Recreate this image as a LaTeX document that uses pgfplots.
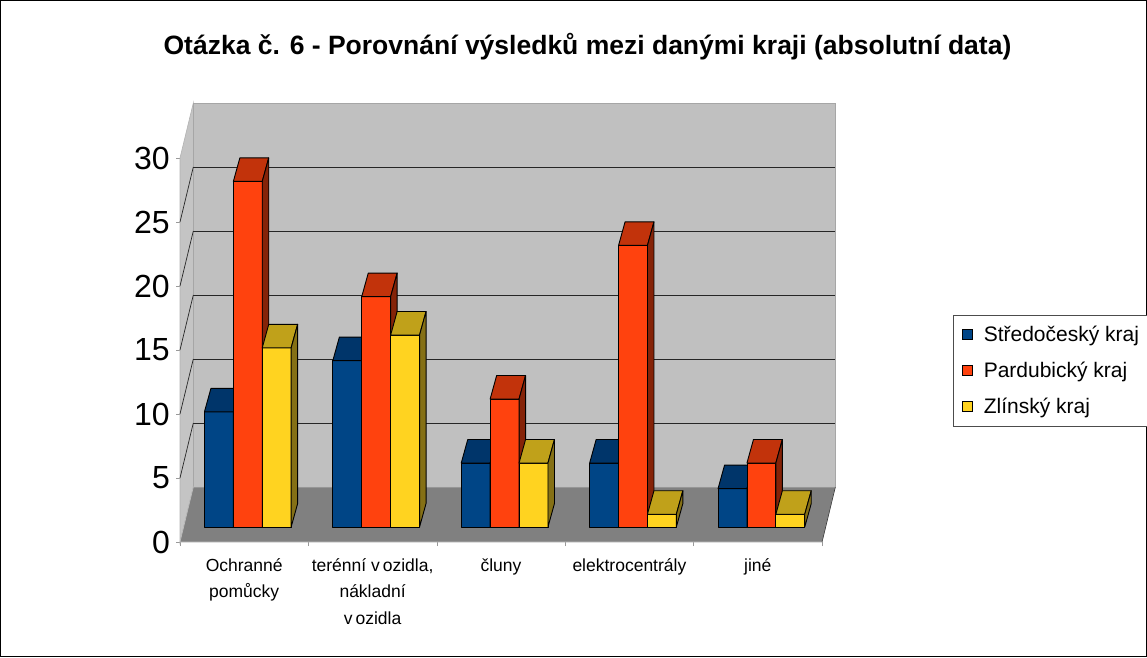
\documentclass[border=0pt]{standalone}
\usepackage{pgfplots}
\pgfplotsset{compat=1.18}
\usepackage{fontspec}
\setmainfont{Liberation Sans}

\definecolor{stF}{HTML}{004586}
\definecolor{stT}{HTML}{00356A}
\definecolor{stS}{HTML}{002A55}
\definecolor{paF}{HTML}{FF420E}
\definecolor{paT}{HTML}{C2330B}
\definecolor{paS}{HTML}{852308}
\definecolor{zlF}{HTML}{FFD320}
\definecolor{zlT}{HTML}{C0A11A}
\definecolor{zlS}{HTML}{857015}
\definecolor{wallB}{HTML}{C0C0C0}
\definecolor{wallL}{HTML}{C4C4C4}
\definecolor{floorc}{HTML}{808080}

% 3D bar drawn at a data point (x, value); \rawv = value
\newcommand\drawbar[4]{%
  \pgfmathsetmacro\hh{\rawv*12.8}%
  \pgfmathsetmacro\xa{#1}%
  \pgfmathsetmacro\xb{\xa+28.9}%
  \pgfmathsetmacro\xc{\xb+6.5}%
  \pgfmathsetmacro\xd{\xa+6.5}%
  \pgfmathsetmacro\yb{15-\hh}%
  \pgfmathsetmacro\yc{38.5-\hh}%
  \pgfsetlinewidth{0.9pt}\pgfsetstrokecolor{black}\pgfsetroundjoin
  \pgfsetfillcolor{#2}%
  \pgfpathrectangle{\pgfpoint{\xa pt}{\yb pt}}{\pgfpoint{28.9pt}{\hh pt}}%
  \pgfusepath{fill,stroke}%
  \pgfsetfillcolor{#3}%
  \pgfpathmoveto{\pgfpoint{\xa pt}{15pt}}%
  \pgfpathlineto{\pgfpoint{\xb pt}{15pt}}%
  \pgfpathlineto{\pgfpoint{\xc pt}{38.5pt}}%
  \pgfpathlineto{\pgfpoint{\xd pt}{38.5pt}}%
  \pgfpathclose
  \pgfusepath{fill,stroke}%
  \pgfsetfillcolor{#4}%
  \pgfpathmoveto{\pgfpoint{\xb pt}{15pt}}%
  \pgfpathlineto{\pgfpoint{\xc pt}{38.5pt}}%
  \pgfpathlineto{\pgfpoint{\xc pt}{\yc pt}}%
  \pgfpathlineto{\pgfpoint{\xb pt}{\yb pt}}%
  \pgfpathclose
  \pgfusepath{fill,stroke}%
}
\pgfdeclareplotmark{barSt}{\drawbar{-39.75}{stF}{stT}{stS}}
\pgfdeclareplotmark{barPa}{\drawbar{-10.85}{paF}{paT}{paS}}
\pgfdeclareplotmark{barZl}{\drawbar{18.05}{zlF}{zlT}{zlS}}

\begin{document}
\begin{tikzpicture}
\useasboundingbox (0,0) rectangle (1147pt,657pt);
\draw[black, line width=0.8pt] (0.4pt,0.4pt) rectangle (1146.6pt,656.6pt);
\node[font=\fontsize{26.5}{30}\selectfont\bfseries, anchor=base, inner sep=0pt] at (587.5pt,602pt)
  {Otázka č. 6 - Porovnání výsledků mezi danými kraji (absolutní data)};
\begin{axis}[
  scale only axis, x=128.4pt, y=12.8pt,
  xmin=-0.5, xmax=4.5, ymin=0, ymax=30,
  at={(180pt,115pt)}, anchor=south west,
  clip=false,
  axis line style={draw=none},
  tick align=outside,
  ytick={0,5,...,30},
  ytick pos=left,
  ytick style={draw=gray!80, line width=0.6pt},
  major tick length=4pt,
  yticklabel style={font=\fontsize{32}{34}\selectfont, inner sep=0pt, xshift=-6pt},
  /pgf/number format/assume math mode=true,
  xtick={-0.5,0.5,...,4.5},
  xticklabels={},
  xtick pos=bottom,
  xtick style={draw=gray!80, line width=0.6pt},
  extra x ticks={0,1,2,3,4},
  extra x tick labels={Ochranné\\pomůcky, {terénní v\,ozidla,\\nákladní\\v\,ozidla}, čluny, elektrocentrály, jiné},
  extra x tick style={major tick length=0pt, xtick style={draw=none}},
  xticklabel style={font=\fontsize{17.5}{26.5}\selectfont, align=center, yshift=-13pt},
  legend image code/.code={\draw[#1, line width=0.6pt] (0pt,-5pt) rectangle (10pt,5pt);},
  legend style={at={(1.2040,0.5911)}, anchor=north west, draw=black!70, fill=white,
    font=\fontsize{21}{25}\selectfont, row sep=15pt, inner ysep=9pt, inner xsep=9pt,
    /tikz/every odd column/.append style={column sep=9pt}},
  legend cell align=left,
]
% left wall
\addplot[forget plot, fill=wallL, draw=gray!60, line width=0.6pt]
  coordinates {(-0.5,0) (-0.5,30) (-0.3964,34.297) (-0.3964,4.297)} --cycle;
% back wall
\addplot[forget plot, fill=wallB, draw=gray!70, line width=0.6pt]
  coordinates {(-0.3964,4.297) (4.6036,4.297) (4.6036,34.297) (-0.3964,34.297)} --cycle;
% floor
\addplot[forget plot, fill=floorc, draw=gray!50, line width=0.6pt]
  coordinates {(-0.5,0) (4.5,0) (4.6036,4.297) (-0.3964,4.297)} --cycle;
\draw[black!75, line width=0.7pt] (axis cs:4.5,0) -- (axis cs:4.6036,4.297);
% grid lines on back wall and left wall
\draw[black!85, line width=0.7pt] (axis cs:-0.3964,9.297) -- (axis cs:4.6036,9.297);
\draw[black!85, line width=0.7pt] (axis cs:-0.3964,14.297) -- (axis cs:4.6036,14.297);
\draw[black!85, line width=0.7pt] (axis cs:-0.3964,19.297) -- (axis cs:4.6036,19.297);
\draw[black!85, line width=0.7pt] (axis cs:-0.3964,24.297) -- (axis cs:4.6036,24.297);
\draw[black!85, line width=0.7pt] (axis cs:-0.3964,29.297) -- (axis cs:4.6036,29.297);
\draw[black!85, line width=0.7pt] (axis cs:-0.5,5) -- (axis cs:-0.3964,9.297);
\draw[black!85, line width=0.7pt] (axis cs:-0.5,10) -- (axis cs:-0.3964,14.297);
\draw[black!85, line width=0.7pt] (axis cs:-0.5,15) -- (axis cs:-0.3964,19.297);
\draw[black!85, line width=0.7pt] (axis cs:-0.5,20) -- (axis cs:-0.3964,24.297);
\draw[black!85, line width=0.7pt] (axis cs:-0.5,25) -- (axis cs:-0.3964,29.297);

% bars: Středočeský, Pardubický, Zlínský
\addplot[forget plot, scatter, only marks, mark=barSt, visualization depends on={rawy\as\rawv}]
  coordinates {(0,9) (1,13) (2,5) (3,5) (4,3)};
\addplot[forget plot, scatter, only marks, mark=barPa, visualization depends on={rawy\as\rawv}]
  coordinates {(0,27) (1,18) (2,10) (3,22) (4,5)};
\addplot[forget plot, scatter, only marks, mark=barZl, visualization depends on={rawy\as\rawv}]
  coordinates {(0,14) (1,15) (2,5) (3,1) (4,1)};

\addlegendimage{fill=stF, draw=black}
\addlegendentry{Středočeský kraj}
\addlegendimage{fill=paF, draw=black}
\addlegendentry{Pardubický kraj}
\addlegendimage{fill=zlF, draw=black}
\addlegendentry{Zlínský kraj}
\end{axis}
\end{tikzpicture}
\end{document}
